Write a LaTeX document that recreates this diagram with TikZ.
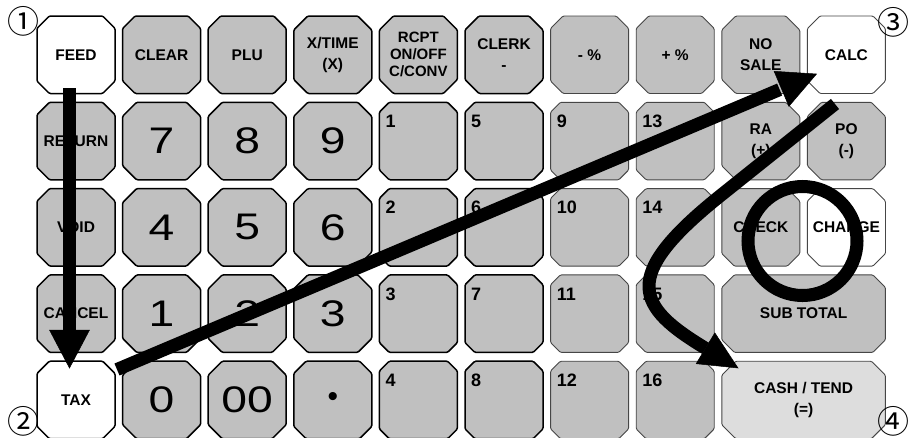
\documentclass[tikz,border=0pt]{standalone}
\usepackage{fontspec}
\setmainfont{Liberation Sans}
\newfontfamily\bigdig[FakeStretch=1.25]{Liberation Sans}
\newfontfamily\circfont{Noto Sans CJK JP}
\usetikzlibrary{shapes.misc,calc}
\definecolor{keygray}{RGB}{192,192,192}
\definecolor{lightkey}{RGB}{221,221,221}
\definecolor{thinedge}{RGB}{70,70,70}
\begin{document}
\begin{tikzpicture}[x=1pt,y=-1pt,
  key/.style={chamfered rectangle, chamfered rectangle xsep=7pt, chamfered rectangle ysep=7pt,
    rounded corners=1.2pt, minimum width=78pt, minimum height=77.5pt, inner sep=0pt,
    fill=keygray, align=center, font=\bfseries\fontsize{15.5}{21}\selectfont},
  thk/.style={key, draw=black, line width=1.5pt},
  thn/.style={key, draw=thinedge, line width=0.9pt},
  wide/.style={minimum width=163.6pt},
  wk/.style={fill=white},
  big/.style={font=\bigdig\fontsize{37}{37}\selectfont},
  three/.style={font=\bfseries\fontsize{15}{17}\selectfont},
  numlbl/.style={anchor=base west, inner sep=0pt, font=\bfseries\fontsize{18}{18}\selectfont},
  circnum/.style={inner sep=0pt, font=\circfont\fontsize{32}{32}\selectfont},
  shaft/.style={line width=13pt, line cap=butt, line join=round},
  head/.style={fill=black, draw=black, line width=0.5pt}
]
\useasboundingbox (0,0) rectangle (908,437);
\clip (0,0) rectangle (908,437);
\fill[white] (0,0) rectangle (908,437);
% row 1
\node[thk,wk] (feed) at (76,54.75) {FEED};
\node[thk] (clear) at (161.6,54.75) {CLEAR};
\node[thk] (plu) at (247.2,54.75) {PLU};
\node[thk] (xtime) at (332.8,54.75) {X/TIME\\(X)};
\node[thk,three] (rcpt) at (418.4,54.75) {RCPT\\ON/OFF\\C/CONV};
\node[thk] (clerk) at (504,54.75) {CLERK\\-};
\node[thn] (minpct) at (589.6,54.75) {- \%};
\node[thn] (pluspct) at (675.2,54.75) {+ \%};
\node[thn] (nosale) at (760.8,54.75) {NO\\SALE};
\node[thn,wk] (calc) at (846.4,54.75) {CALC};
% row 2
\node[thk] (return) at (76,141.05) {RETURN};
\node[thk,big] (k7) at (161.6,141.05) {7};
\node[thk,big] (k8) at (247.2,141.05) {8};
\node[thk,big] (k9) at (332.8,141.05) {9};
\node[thk] (d1) at (418.4,141.05) {\phantom{0}};
\node[thk] (d5) at (504,141.05) {\phantom{0}};
\node[thn] (d9) at (589.6,141.05) {\phantom{0}};
\node[thn] (d13) at (675.2,141.05) {\phantom{0}};
\node[thn] (ra) at (760.8,141.05) {RA\\(+)};
\node[thn] (po) at (846.4,141.05) {PO\\(-)};
% row 3
\node[thk] (void) at (76,227.35) {VOID};
\node[thk,big] (k4) at (161.6,227.35) {4};
\node[thk,big] (k5) at (247.2,227.35) {5};
\node[thk,big] (k6) at (332.8,227.35) {6};
\node[thk] (d2) at (418.4,227.35) {\phantom{0}};
\node[thk] (d6) at (504,227.35) {\phantom{0}};
\node[thn] (d10) at (589.6,227.35) {\phantom{0}};
\node[thn] (d14) at (675.2,227.35) {\phantom{0}};
\node[thn] (check) at (760.8,227.35) {CHECK};
\node[thn,wk] (change) at (846.4,227.35) {CHANGE};
% row 4
\node[thk] (cancel) at (76,313.65) {CANCEL};
\node[thk,big] (k1) at (161.6,313.65) {1};
\node[thk,big] (k2) at (247.2,313.65) {2};
\node[thk,big] (k3) at (332.8,313.65) {3};
\node[thk] (d3) at (418.4,313.65) {\phantom{0}};
\node[thk] (d7) at (504,313.65) {\phantom{0}};
\node[thn] (d11) at (589.6,313.65) {\phantom{0}};
\node[thn] (d15) at (675.2,313.65) {\phantom{0}};
\node[thn,wide] (subtotal) at (803.6,313.65) {SUB TOTAL};
% row 5
\node[thk,wk] (tax) at (76,399.95) {TAX};
\node[thk,big] (k0) at (161.6,399.95) {0};
\node[thk,big] (k00) at (247.2,399.95) {00};
\node[thk] (kdot) at (332.8,399.95) {\fontsize{30}{30}\selectfont\mdseries •};
\node[thk] (d4) at (418.4,399.95) {\phantom{0}};
\node[thk] (d8) at (504,399.95) {\phantom{0}};
\node[thn] (d12) at (589.6,399.95) {\phantom{0}};
\node[thn] (d16) at (675.2,399.95) {\phantom{0}};
\node[thn,wide,fill=lightkey] (cash) at (803.6,399.95) {CASH / TEND\\(=)};
% small department numbers
\foreach \nm/\lab in {d1/1,d2/2,d3/3,d4/4,d5/5,d6/6,d7/7,d8/8,d9/9,d10/10,d11/11,d12/12,d13/13,d14/14,d15/15,d16/16}
  \node[numlbl] (l\nm) at ($(\nm.center)+(-33,-13.5)$) {\lab};
% circled markers
\node[circnum] (m1) at (24,21) {①};
\node[circnum] (m2) at (24,421) {②};
\node[circnum] (m3) at (893,22) {③};
\node[circnum] (m4) at (893,421) {④};
% arrow 1: FEED -> TAX
\coordinate (a1s) at (69.5,88);
\coordinate (a1t) at (69.5,368);
\coordinate (a1m) at (69.5,330);
\draw[shaft] (a1s) -- ($(a1m)+(0,2)$);
\fill[head] ($(a1m)+(-20,0)$) -- ($(a1m)+(20,0)$) -- (a1t) -- cycle;
% arrow 2: TAX -> CALC
\coordinate (a2s) at (117,369.5);
\coordinate (a2t) at (816.5,74);
\coordinate (a2m) at ($(a2t)!38pt!(a2s)$);
\draw[shaft] (a2s) -- ($(a2m)!-2pt!(a2t)$);
\fill[head] ($(a2m)!19pt!90:(a2t)$) -- (a2t) -- ($(a2m)!19pt!-90:(a2t)$) -- cycle;
% arrow 3: CALC -> CASH/TEND
\coordinate (a3s) at (835,104);
\coordinate (a3b) at (720,196);
\coordinate (a3t) at (738,368);
\coordinate (a3m) at (705.5,348.3);
\draw[shaft] (a3s) -- (a3b) .. controls (618.5,277.2) and (637,306.9) .. (a3m);
\fill[head] ($(a3m)!18pt!90:(a3t)$) -- (a3t) -- ($(a3m)!18pt!-90:(a3t)$) -- cycle;
% ring round CHECK / CHANGE
\node[circle, draw=black, line width=13pt, minimum size=109pt, inner sep=0pt] (ring) at (802.5,241) {};
\end{tikzpicture}
\end{document}
